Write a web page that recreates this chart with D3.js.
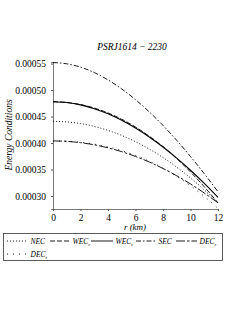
<!DOCTYPE html>
<html><head><meta charset="utf-8">
<script src="https://cdn.jsdelivr.net/npm/d3@7"></script>
<style>body{margin:0;background:#fff}svg{display:block}text{font-family:"Liberation Serif","DejaVu Serif",serif;fill:#000}</style>
</head><body><div id="chart"></div>
<script>
const title = "PSRJ1614 \u2212 2230";
const rValues = [0,1,2,3,4,5,6,7,8,9,10,11,12];
const NEC  = [441.0,439.9,436.7,431.4,423.9,414.3,402.5,388.6,372.6,354.4,334.1,311.6,287.0];
const WECr = [478.0,476.6,472.7,466.1,456.8,444.9,430.3,413.0,393.2,370.6,345.4,317.5,287.0];
const WECt = [478.0,476.4,472.0,464.9,455.1,442.9,428.3,411.5,392.6,371.6,348.7,323.9,297.5];
const SEC  = [552.0,549.6,543.3,533.1,519.2,502.1,481.9,458.8,433.2,405.0,374.6,342.1,308.0];
const DECr = [404.0,403.2,400.7,396.7,391.0,383.7,374.7,364.2,352.0,338.2,322.8,305.7,287.0];
const DECt = [404.0,403.4,401.4,397.9,392.7,385.7,376.7,365.7,352.6,337.2,319.5,299.3,276.5];
const xTicks = [0,2,4,6,8,10,12];
const yTicks = [0.00030,0.00035,0.00040,0.00045,0.00050,0.00055];
const seriesNames = ["NEC","WEC_r","WEC_t","SEC","DEC_r","DEC_t"];
const seriesData = [NEC,WECr,WECt,SEC,DECr,DECt];
const dashes = ["1,2","5,2","", "5,2,1.5,2","9,2,2.5,2","1,5"];

const W=240,H=310;
const svg=d3.select("#chart").append("svg").attr("width",W).attr("height",H);
const x=d3.scaleLinear().domain([0,12]).range([53,218]);
const y=d3.scaleLinear().domain([0.0002755,0.000553]).range([209,62]);

svg.append("text").attr("x",132).attr("y",50).attr("text-anchor","middle")
  .attr("font-size",9.5).attr("font-style","italic").text(title);

const gx=svg.append("g").attr("transform","translate(0,209)")
  .call(d3.axisBottom(x).tickValues(xTicks).tickSize(2).tickFormat(d3.format("d")));
const gy=svg.append("g").attr("transform","translate(53,0)")
  .call(d3.axisLeft(y).tickValues(yTicks).tickSize(2).tickFormat(d3.format(".5f")));
[gx,gy].forEach(g=>{g.select(".domain").attr("stroke","#555").attr("stroke-width",0.8);
  g.selectAll(".tick line").attr("stroke","#555");
  g.selectAll("text").attr("font-family","Liberation Serif").attr("font-size",9.5);});
gx.selectAll("text").attr("dy","0.75em");
gy.selectAll("text").attr("dx","-2");

svg.append("text").attr("x",135).attr("y",230).attr("text-anchor","middle")
  .attr("font-size",9).attr("font-style","italic").text("r (km)");
svg.append("text").attr("transform","translate(12,135) rotate(-90)").attr("text-anchor","middle")
  .attr("font-size",9.5).attr("font-style","italic").text("Energy Conditions");

const line=d3.line().x((d,i)=>x(rValues[i])).y(d=>y(d*1e-6)).curve(d3.curveMonotoneX);
seriesData.forEach((s,i)=>{
  svg.append("path").datum(s).attr("d",line).attr("fill","none").attr("stroke","#000")
    .attr("stroke-width",i===2?1.1:0.9).attr("stroke-dasharray",dashes[i]);
});

// legend
const lg=svg.append("g");
lg.append("rect").attr("x",3.5).attr("y",233.5).attr("width",219).attr("height",27)
  .attr("fill","none").attr("stroke","#333").attr("stroke-width",0.8);
const items=[[7,241,21,0],[50,241,20,1],[91,241,22,2],[136,241,20,3],[176,241,21,4],[7,254,21,5]];
items.forEach(([lx,ly,sl,i])=>{
  lg.append("line").attr("x1",lx).attr("x2",lx+sl).attr("y1",ly).attr("y2",ly)
    .attr("stroke","#000").attr("stroke-width",0.9).attr("stroke-dasharray",dashes[i]);
  const t=lg.append("text").attr("x",lx+sl+2.5).attr("y",ly+3).attr("font-size",7.5).attr("font-style","italic");
  const nm=seriesNames[i];
  if(nm.includes("_")){
    const [a,b]=nm.split("_");
    t.append("tspan").text(a);
    t.append("tspan").attr("font-size",5).attr("dy",2).text(b);
  } else t.text(nm);
});
</script></body></html>
